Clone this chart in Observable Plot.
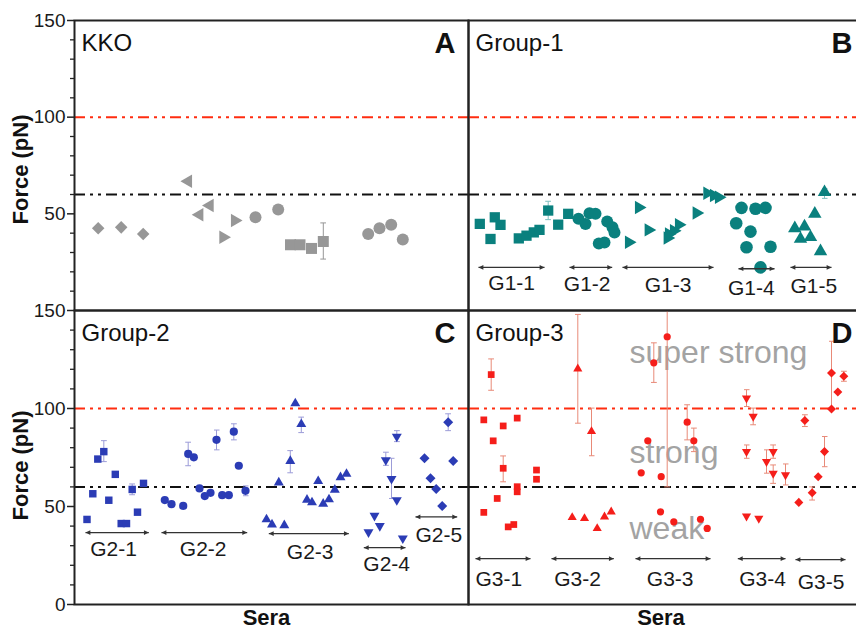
<!DOCTYPE html>
<html><head><meta charset="utf-8">
<script src="https://cdn.jsdelivr.net/npm/d3@7"></script>
<script src="https://cdn.jsdelivr.net/npm/@observablehq/plot@0.6"></script>
<style>
html,body{margin:0;padding:0;background:#fff;overflow:hidden;}
#chart{position:relative;width:856px;height:631px;overflow:hidden;background:#fff;}
</style></head><body><div id="chart"></div>
<script>
// ---------- DATA (x = serum position along panel, y = force in pN, optional [lo, hi] error) ----------
// Panel A - KKO (grey)
const kkoDiamonds = [[23.7,42.5],[46.7,43.0],[68.7,39.6]];
const kkoLeftTri  = [[113.7,66.8],[125,49.5],[135.3,54.3]];
const kkoRightTri = [[148.7,37.9],[160.3,46.5]];
const kkoOctagons = [[181,48.2],[203.7,52.2]];
const kkoSquares  = [[216,34.0],[225.5,34.0],[237,32.1],[248.8,35.7,26.6,45.3]];
const kkoCircles  = [[293.7,39.6],[305,42.5],[316.7,44.4],[328.3,36.7]];

// Panel B - Group-1 (teal)
const g1Squares  = [[11.3,44.8],[26.3,48.2],[32,44.3],[22,37.0],[50.3,37.3],[58,38.7],[65.3,40.4],[71,41.7],[79.7,51.7,47,56.5],[89.7,44.4],[99.7,50.0]];
const g1Circles2 = [[110,47.4],[117,44.8],[121,50.3],[127,50.0],[138.7,46.0],[144,43.0],[146,40.4],[130.3,34.7],[136,35.2]];
const g1RightTri = [[160.3,35.3],[170.3,53.3],[180,41.7],[199,37.5],[200.3,39.6],[205.3,41.3],[210.3,44.4],[228,50.4],[238.7,60.7],[245.3,59.5],[250.3,58.6]];
const g1Circles4 = [[273,53.1],[287,52.6],[297,53.1],[267.7,45.1],[282,40.8],[278,32.7],[302,33.0],[292,22.3]];
const g1UpTri    = [[356,61.2,58,63],[346.3,50],[326.3,42.5],[336,43.4],[332,37],[342,37.9],[352,30.6]];

// Panel C - Group-2 (blue)
const g2Squares  = [[12.5,43.4],[18.3,56.5],[23.3,74.2],[29.3,78,72.9,83.6],[34.3,53.2],[40.8,66.4],[46.7,41.3],[52,41.3],[57.7,58.7,56,61.5],[63,47.1],[69,61.8]];
const g2Circles  = [[90.3,53.3],[97,51.2],[108.7,50.3],[113.7,76.8,70.8,82.8],[119.3,75.1],[125,59.2],[130.3,55.3],[136,57],[142,84,78.9,89],[147.7,55.8],[154.3,55.8],[159.3,88.2,84,92.2],[164.3,70.8],[171,58,55.5,60.5]];
const g2UpTri    = [[192,43.4],[197.5,40.8],[204.3,62.2],[209.8,40.4],[215.8,73.2,67.2,78.5],[220.8,102.6],[226.8,92,87.7,95.6],[232.5,53.4],[237.5,52.1],[243.7,62.9],[248.7,51.4],[254.5,53.6],[260.3,58.5],[266,64.9],[272,66.6]];
const g2DownTri  = [[294,36.9],[300,45.3],[305.3,40.1],[311.3,73.7,71,77.7],[317,64.1,54.1,74.6],[322.3,85.7,83.1,88.7],[322.3,53.3],[328.3,33.8]];
const g2Diamonds = [[350,74.6],[356,64.4],[361.7,58.9],[367.7,50.2],[373.7,93,88.7,97.3],[378.7,73.2]];

// Panel D - Group-3 (red)
const g3Squares  = [[15.3,94.2],[22.7,117.3,109.3,125.3],[24.7,83.5],[34.7,91.1],[48.7,95.1],[34.7,69.5,62.6,75.8],[28.7,54.1],[15.3,47],[39.7,39.6],[45.3,40.8],[48.7,60.1],[48.7,57.5],[68,68.6],[68,63.9]];
const g3UpTri    = [[109.3,120.2,92.5,148],[123,88.3,75.9,100.2],[103.7,44.4],[116,43.9],[128.7,38.8],[136,44.7],[142.7,47.3]];
const g3Circles  = [[172.7,67.2],[179.3,83.5],[185.3,123.3,113.3,133.5],[192.7,65.2],[192,47.3],[198.7,136.6,60,214],[205.3,42.2],[218.7,93,84,101.9],[225.3,83.5,78,90],[232,43.5],[238.7,38.8]];
const g3DownTri  = [[278,105.3,101,109.6],[284.7,96,91.7,100.2],[278,78,74.6,81.4],[298,72.9,67,78.9],[304.7,78,74.6,81.4],[304.7,66.9,61.8,71.2],[317,66.1,61,71.7],[278,45.1],[290.3,43.9]];
const g3Diamonds = [[330.3,52.1],[336.3,93.9,90.8,96.8],[343.7,57,53.3,60],[349.7,65.2],[356,78,70.3,85.7],[363,99.8],[363,118.1,100,134.3],[369.3,108.4],[375.3,116.4,113.9,119]];

// Group annotations: [label, x1, x2, arrowY, labelX, labelY]
const groupsB = [["G1-1",10,76,22.3,43.2,14.0],["G1-2",101,143.7,22.3,118.7,13.7],["G1-3",154,245,22.3,199.5,12.9],["G1-4",270,306,21.6,282.8,11.4],["G1-5",322,363,22.3,345.3,12.4]];
const groupsC = [["G2-1",11,74.3,36.7,39,28.0],["G2-2",87,172.7,36.7,128.7,28.0],["G2-3",194.3,274.3,36.2,235.7,26.8],["G2-4",289.3,331,29,312.2,20.3],["G2-5",341,382.7,44.7,364.3,35.5]];
const groupsD = [["G3-1",7,62,23.4,30.3,13.1],["G3-2",83,145.3,23.4,109,13.1],["G3-3",167,242,23.4,201.7,13],["G3-4",269.3,317,23.4,294,13],["G3-5",327,377,22.9,352.5,11.1]];

// Strength zones: [text, x, y]
const zones = [["super strong",161,128.4],["strong",161,77.6],["weak",161,38.4]];

const thresholds = {strong: 60, superStrong: 100};
const yMajorTop = [50,100,150];
const yMajorBottom = [0,50,100,150];
const yMinor = [10,20,30,40,60,70,80,90,110,120,130,140];

// ---------- SYMBOLS ----------
const SQ3 = Math.sqrt(3);
function triangle(angle){
  return {draw(ctx, size){
    const y = -Math.sqrt(size/(SQ3*3));
    const pts = [[0,y*2],[-SQ3*y,-y],[SQ3*y,-y]];
    const a = angle*Math.PI/180, c = Math.cos(a), s = Math.sin(a);
    pts.forEach(([px,py],i)=>{const X=px*c-py*s, Y=px*s+py*c; i?ctx.lineTo(X,Y):ctx.moveTo(X,Y);});
    ctx.closePath();
  }};
}
const diamond = {draw(ctx,size){const d=Math.sqrt(size)/Math.SQRT2; ctx.moveTo(0,-d);ctx.lineTo(d,0);ctx.lineTo(0,d);ctx.lineTo(-d,0);ctx.closePath();}};
function head(dir){ // arrowhead with tip at origin
  return {draw(ctx,size){const s=Math.sqrt(size), L=s*1.25, W=s*0.6; ctx.moveTo(0,0);ctx.lineTo(-dir*L,-W);ctx.lineTo(-dir*L,W);ctx.closePath();}};
}
const SYM = {
  square: "square", circle: "circle", diamond,
  up: triangle(0), down: triangle(180), left: triangle(270), right: triangle(90)
};

const FONT = "Arial, 'Liberation Sans', Helvetica, sans-serif";
const DASH = "11,5,3,5,3,5";

function panel(o){
  const marks = [];
  marks.push(Plot.ruleY([thresholds.strong], {stroke:"#111", strokeWidth:2, strokeDasharray:DASH}));
  marks.push(Plot.ruleY([thresholds.superStrong], {stroke:"#ff2d10", strokeWidth:2, strokeDasharray:DASH}));
  if (o.zones) marks.push(Plot.text(o.zones, {x:d=>d[1], y:d=>d[2], text:d=>d[0], textAnchor:"start", lineAnchor:"middle", fontSize:32, fill:"#a3a3a3"}));
  for (const s of o.series){
    const err = s.data.filter(d=>d.length>3);
    if (err.length) marks.push(Plot.link(err, {x1:d=>d[0], x2:d=>d[0], y1:d=>d[2], y2:d=>d[3], stroke:s.err, strokeWidth:1, markerStart:"tick", markerEnd:"tick", clip:true}));
  }
  for (const s of o.series){
    marks.push(Plot.dot(s.data, {x:d=>d[0], y:d=>d[1], r:s.r, symbol:SYM[s.shape], fill:s.color, stroke:"none"}));
  }
  if (o.groups){
    marks.push(Plot.link(o.groups, {x1:d=>d[1], x2:d=>d[2], y1:d=>d[3], y2:d=>d[3], stroke:"#333", strokeWidth:1.3}));
    marks.push(Plot.dot(o.groups, {x:d=>d[1], y:d=>d[3], r:2.2, symbol:head(-1), fill:"#333", stroke:"none"}));
    marks.push(Plot.dot(o.groups, {x:d=>d[2], y:d=>d[3], r:2.2, symbol:head(1), fill:"#333", stroke:"none"}));
    marks.push(Plot.text(o.groups, {x:d=>d[4], y:d=>d[5], text:d=>d[0], fontSize:21, fill:"#1a1a1a", lineAnchor:"middle"}));
  }
  if (o.yMajor){
    marks.push(Plot.axisY({ticks:yMinor, tickSize:4, tickFormat:()=>"", label:null, stroke:"#222", strokeWidth:1.3}));
    marks.push(Plot.axisY({ticks:o.yMajor, tickSize:7, tickPadding:2, label:null, fontSize:19, color:"#1a1a1a", stroke:"#222", strokeWidth:1.5}));
    marks.push(Plot.text(["Force (pN)"], {frameAnchor:"left", dx:-54, dy:o.forceDy, rotate:-90, textAnchor:"middle", lineAnchor:"middle", fontSize:22, fontWeight:"bold", fill:"#111"}));
  }
  if (o.sera) marks.push(Plot.text(["Sera"], {frameAnchor:"bottom", dx:o.seraDx, dy:5, lineAnchor:"top", fontSize:22, fontWeight:"bold", fill:"#111"}));
  marks.push(Plot.text([o.title], {frameAnchor:"top-left", dx:7, dy:13, textAnchor:"start", lineAnchor:"top", fontSize:24, fill:"#111"}));
  marks.push(Plot.text([o.letter], {frameAnchor:"top-right", dx:-13, dy:11.5, textAnchor:"end", lineAnchor:"top", fontSize:29, fontWeight:"bold", fill:"#111"}));
  marks.push(Plot.frame({stroke:"#222", strokeWidth:2}));

  const svg = Plot.plot({
    width:o.width, height:o.height,
    marginTop:o.mt, marginBottom:o.mb, marginLeft:o.ml, marginRight:o.mr,
    x:{domain:[0,o.xw], axis:null},
    y:{domain:[0,150], axis:null},
    style:{background:"transparent", overflow:"visible", fontFamily:FONT},
    marks
  });
  svg.style.position = "absolute";
  svg.style.left = o.left + "px";
  svg.style.top = o.top + "px";
  svg.style.maxWidth = "none";
  document.getElementById("chart").appendChild(svg);
}

const GRAY = "#979797", TEAL = "#0a807e", BLUE = "#2b3cb5", RED = "#f51e1a";

panel({left:0, top:0, width:470, height:312, mt:20, mb:2, ml:74, mr:2, xw:394, yMajor:yMajorTop, forceDy:4,
  title:"KKO", letter:"A",
  series:[
    {data:kkoDiamonds, shape:"diamond", r:5.0, color:GRAY, err:GRAY},
    {data:kkoLeftTri, shape:"left", r:5.0, color:GRAY, err:GRAY},
    {data:kkoRightTri, shape:"right", r:5.0, color:GRAY, err:GRAY},
    {data:kkoOctagons, shape:"circle", r:6, color:GRAY, err:GRAY},
    {data:kkoSquares, shape:"square", r:6.2, color:GRAY, err:GRAY},
    {data:kkoCircles, shape:"circle", r:6, color:GRAY, err:GRAY}
  ]});

panel({left:466, top:0, width:401, height:312, mt:20, mb:2, ml:2, mr:2, xw:397,
  title:"Group-1", letter:"B", groups:groupsB,
  series:[
    {data:g1Squares, shape:"square", r:5.8, color:TEAL, err:"#7fbfbf"},
    {data:g1Circles2, shape:"circle", r:6, color:TEAL, err:"#7fbfbf"},
    {data:g1RightTri, shape:"right", r:5.0, color:TEAL, err:"#7fbfbf"},
    {data:g1Circles4, shape:"circle", r:6.3, color:TEAL, err:"#7fbfbf"},
    {data:g1UpTri, shape:"up", r:5.0, color:TEAL, err:"#7fbfbf"}
  ]});

panel({left:0, top:298, width:470, height:333, mt:12, mb:27, ml:74, mr:2, xw:394, yMajor:yMajorBottom, forceDy:8,
  title:"Group-2", letter:"C", groups:groupsC, sera:true, seraDx:-5,
  series:[
    {data:g2Squares, shape:"square", r:4.2, color:BLUE, err:"#9c9cd8"},
    {data:g2Circles, shape:"circle", r:4.1, color:BLUE, err:"#9c9cd8"},
    {data:g2UpTri, shape:"up", r:3.7, color:BLUE, err:"#9c9cd8"},
    {data:g2DownTri, shape:"down", r:3.7, color:BLUE, err:"#9c9cd8"},
    {data:g2Diamonds, shape:"diamond", r:4.0, color:BLUE, err:"#9c9cd8"}
  ]});

panel({left:466, top:298, width:401, height:333, mt:12, mb:27, ml:2, mr:2, xw:397,
  title:"Group-3", letter:"D", groups:groupsD, zones, sera:true, seraDx:-6,
  series:[
    {data:g3Squares, shape:"square", r:3.8, color:RED, err:"#e88a78"},
    {data:g3UpTri, shape:"up", r:3.4, color:RED, err:"#e88a78"},
    {data:g3Circles, shape:"circle", r:3.6, color:RED, err:"#e88a78"},
    {data:g3DownTri, shape:"down", r:3.4, color:RED, err:"#e88a78"},
    {data:g3Diamonds, shape:"diamond", r:3.6, color:RED, err:"#e88a78"}
  ]});
</script></body></html>
